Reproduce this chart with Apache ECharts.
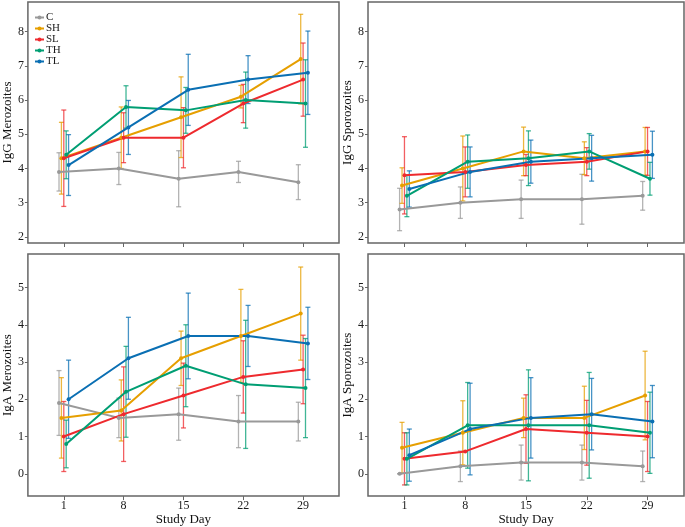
<!DOCTYPE html>
<html><head><meta charset="utf-8">
<script src="https://cdn.jsdelivr.net/npm/echarts@6/dist/echarts.min.js"></script>
<style>html,body{margin:0;padding:0;background:#fff}#c{width:685px;height:527px}</style>
</head><body><div id="c"></div>
<script>
// ---------- data ----------
const dayLabels = ['1', '8', '15', '22', '29'];
const groups = ['C', 'SH', 'SL', 'TH', 'TL'];

// IgG Merozoites (mean, half error bar)
const iggMer_C = [3.9, 4.0, 3.7, 3.9, 3.6];   const iggMer_C_err = [0.56, 0.47, 0.82, 0.31, 0.51];
const iggMer_SH = [4.3, 4.9, 5.5, 6.1, 7.2];  const iggMer_SH_err = [1.05, 0.9, 1.18, 0.33, 1.31];
const iggMer_SL = [4.3, 4.9, 4.9, 5.9, 6.6];  const iggMer_SL_err = [1.41, 0.73, 0.88, 0.56, 1.07];
const iggMer_TH = [4.4, 5.8, 5.7, 6.0, 5.9];  const iggMer_TH_err = [0.7, 0.62, 0.67, 0.82, 1.28];
const iggMer_TL = [4.1, 5.2, 6.3, 6.6, 6.8];  const iggMer_TL_err = [0.89, 0.79, 1.04, 0.7, 1.22];

// IgG Sporozoites
const iggSpo_C = [2.8, 3.0, 3.1, 3.1, 3.2];   const iggSpo_C_err = [0.62, 0.46, 0.56, 0.73, 0.42];
const iggSpo_SH = [3.5, 4.0, 4.5, 4.3, 4.5];  const iggSpo_SH_err = [0.52, 0.95, 0.71, 0.48, 0.7];
const iggSpo_SL = [3.8, 3.9, 4.1, 4.2, 4.5];  const iggSpo_SL_err = [1.13, 0.73, 0.31, 0.41, 0.7];
const iggSpo_TH = [3.2, 4.2, 4.3, 4.5, 3.7];  const iggSpo_TH_err = [0.61, 0.78, 0.8, 0.52, 0.48];
const iggSpo_TL = [3.4, 3.9, 4.2, 4.3, 4.4];  const iggSpo_TL_err = [0.53, 0.73, 0.63, 0.67, 0.69];

// IgA Merozoites
const igaMer_C = [1.9, 1.5, 1.6, 1.4, 1.4];   const igaMer_C_err = [0.87, 0.53, 0.7, 0.7, 0.52];
const igaMer_SH = [1.5, 1.7, 3.1, 3.7, 4.3];  const igaMer_SH_err = [1.08, 0.82, 0.73, 1.25, 1.25];
const igaMer_SL = [1.0, 1.6, 2.1, 2.6, 2.8];  const igaMer_SL_err = [0.94, 1.27, 0.87, 0.97, 0.92];
const igaMer_TH = [0.8, 2.2, 2.9, 2.4, 2.3];  const igaMer_TH_err = [0.64, 1.22, 1.1, 1.72, 1.33];
const igaMer_TL = [2.0, 3.1, 3.7, 3.7, 3.5];  const igaMer_TL_err = [1.05, 1.1, 1.15, 0.82, 0.97];

// IgA Sporozoites
const igaSpo_C = [0.0, 0.2, 0.3, 0.3, 0.2];   const igaSpo_C_err = [0.0, 0.41, 0.47, 0.47, 0.41];
const igaSpo_SH = [0.7, 1.1, 1.5, 1.5, 2.1];  const igaSpo_SH_err = [0.68, 0.86, 0.53, 0.85, 1.19];
const igaSpo_SL = [0.4, 0.6, 1.2, 1.1, 1.0];  const igaSpo_SL_err = [0.7, 0.0, 0.92, 0.87, 0.94];
const igaSpo_TH = [0.4, 1.3, 1.3, 1.3, 1.1];  const igaSpo_TH_err = [0.7, 1.15, 1.49, 1.42, 1.09];
const igaSpo_TL = [0.5, 1.2, 1.5, 1.6, 1.4];  const igaSpo_TL_err = [0.7, 1.23, 1.08, 0.96, 0.97];

const yTicksIgG = [2, 3, 4, 5, 6, 7, 8];
const yTicksIgA = [0, 1, 2, 3, 4, 5];

// ---------- build ----------
const colors = {C: '#999999', SH: '#E69F00', SL: '#EE2A2E', TH: '#009E73', TL: '#0A6FB3'};
const dodge = {C: -0.08, SH: -0.04, SL: 0, TH: 0.04, TL: 0.08};
const FONT = '"Liberation Serif", "DejaVu Serif", serif';

const panels = [
  {title: 'IgG Merozoites', mean: {C: iggMer_C, SH: iggMer_SH, SL: iggMer_SL, TH: iggMer_TH, TL: iggMer_TL},
   err: {C: iggMer_C_err, SH: iggMer_SH_err, SL: iggMer_SL_err, TH: iggMer_TH_err, TL: iggMer_TL_err},
   grid: {left: 22, top: 2, width: 317, height: 241}, ymin: 1.82, ymax: 8.87, yt: yTicksIgG, bottom: false, gap: 12},
  {title: 'IgG Sporozoites', mean: {C: iggSpo_C, SH: iggSpo_SH, SL: iggSpo_SL, TH: iggSpo_TH, TL: iggSpo_TL},
   err: {C: iggSpo_C_err, SH: iggSpo_SH_err, SL: iggSpo_SL_err, TH: iggSpo_TH_err, TL: iggSpo_TL_err},
   grid: {left: 368, top: 2, width: 316, height: 241}, ymin: 1.82, ymax: 8.87, yt: yTicksIgG, bottom: false, gap: 10},
  {title: 'IgA Merozoites', mean: {C: igaMer_C, SH: igaMer_SH, SL: igaMer_SL, TH: igaMer_TH, TL: igaMer_TL},
   err: {C: igaMer_C_err, SH: igaMer_SH_err, SL: igaMer_SL_err, TH: igaMer_TH_err, TL: igaMer_TL_err},
   grid: {left: 22, top: 254, width: 317, height: 244}, ymin: -0.6, ymax: 5.9, yt: yTicksIgA, bottom: true, gap: 12},
  {title: 'IgA Sporozoites', mean: {C: igaSpo_C, SH: igaSpo_SH, SL: igaSpo_SL, TH: igaSpo_TH, TL: igaSpo_TL},
   err: {C: igaSpo_C_err, SH: igaSpo_SH_err, SL: igaSpo_SL_err, TH: igaSpo_TH_err, TL: igaSpo_TL_err},
   grid: {left: 368, top: 254, width: 316, height: 244}, ymin: -0.6, ymax: 5.9, yt: yTicksIgA, bottom: true, gap: 10}
];

const grid = [], xAxis = [], yAxis = [], series = [];
panels.forEach((p, i) => {
  grid.push(Object.assign({show: true, borderColor: '#666', borderWidth: 1.5, backgroundColor: '#fff'}, p.grid));
  xAxis.push({
    type: 'value', gridIndex: i, min: -0.6, max: 4.6, position: 'bottom',
    axisLine: {show: false, onZero: false}, splitLine: {show: false},
    axisTick: {show: true, customValues: [0, 1, 2, 3, 4], length: 4, lineStyle: {color: '#666', width: 1}},
    axisLabel: {show: p.bottom, customValues: [0, 1, 2, 3, 4], formatter: v => dayLabels[Math.round(v)],
      fontFamily: FONT, fontSize: 12, color: '#1a1a1a', margin: 4},
    name: p.bottom ? 'Study Day' : '', nameLocation: 'middle', nameGap: 14,
    nameTextStyle: {fontFamily: FONT, fontSize: 13, color: '#111'}
  });
  yAxis.push({
    type: 'value', gridIndex: i, min: p.ymin, max: p.ymax, position: 'left',
    axisLine: {show: false, onZero: false}, splitLine: {show: false},
    axisTick: {show: true, customValues: p.yt, length: 3, lineStyle: {color: '#666', width: 1}},
    axisLabel: {show: true, customValues: p.yt, fontFamily: FONT, fontSize: 12, color: '#1a1a1a', margin: 4},
    name: p.title, nameLocation: 'middle', nameGap: p.gap, nameRotate: 90,
    nameTextStyle: {fontFamily: FONT, fontSize: 13, color: '#111'}
  });
  groups.forEach(g => {
    const col = colors[g];
    const errData = p.mean[g].map((m, k) => [k + dodge[g], m - p.err[g][k], m + p.err[g][k]]);
    series.push({
      type: 'custom', name: g + '_err', xAxisIndex: i, yAxisIndex: i, clip: false, z: 2,
      data: errData, encode: {x: 0, y: [1, 2]},
      renderItem: (params, api) => {
        const x = api.value(0);
        const lo = api.coord([x, api.value(1)]);
        const hi = api.coord([x, api.value(2)]);
        const w = 2.5;
        const st = {stroke: col, lineWidth: 1.3, opacity: 0.75};
        return {type: 'group', children: [
          {type: 'line', shape: {x1: lo[0], y1: lo[1], x2: hi[0], y2: hi[1]}, style: st},
          {type: 'line', shape: {x1: hi[0] - w, y1: hi[1], x2: hi[0] + w, y2: hi[1]}, style: st},
          {type: 'line', shape: {x1: lo[0] - w, y1: lo[1], x2: lo[0] + w, y2: lo[1]}, style: st}
        ]};
      }
    });
  });
  groups.forEach(g => {
    series.push({
      type: 'line', name: g, xAxisIndex: i, yAxisIndex: i, z: 3,
      data: p.mean[g].map((m, k) => [k + dodge[g], m]),
      symbol: 'circle', symbolSize: 4, showSymbol: true,
      itemStyle: {color: colors[g]}, lineStyle: {color: colors[g], width: 2},
      animation: false
    });
  });
});

const chart = echarts.init(document.getElementById('c'), null, {renderer: 'canvas'});
chart.setOption({
  animation: false,
  backgroundColor: '#fff',
  grid, xAxis, yAxis, series,
  legend: {
    data: groups, orient: 'vertical', left: 29, top: 7, itemWidth: 9, itemHeight: 5, itemGap: 0,
    textStyle: {fontFamily: FONT, fontSize: 11, color: '#1a1a1a', lineHeight: 9, padding: [0, 0, 0, -3]},
    selectedMode: false
  }
});
</script></body></html>
